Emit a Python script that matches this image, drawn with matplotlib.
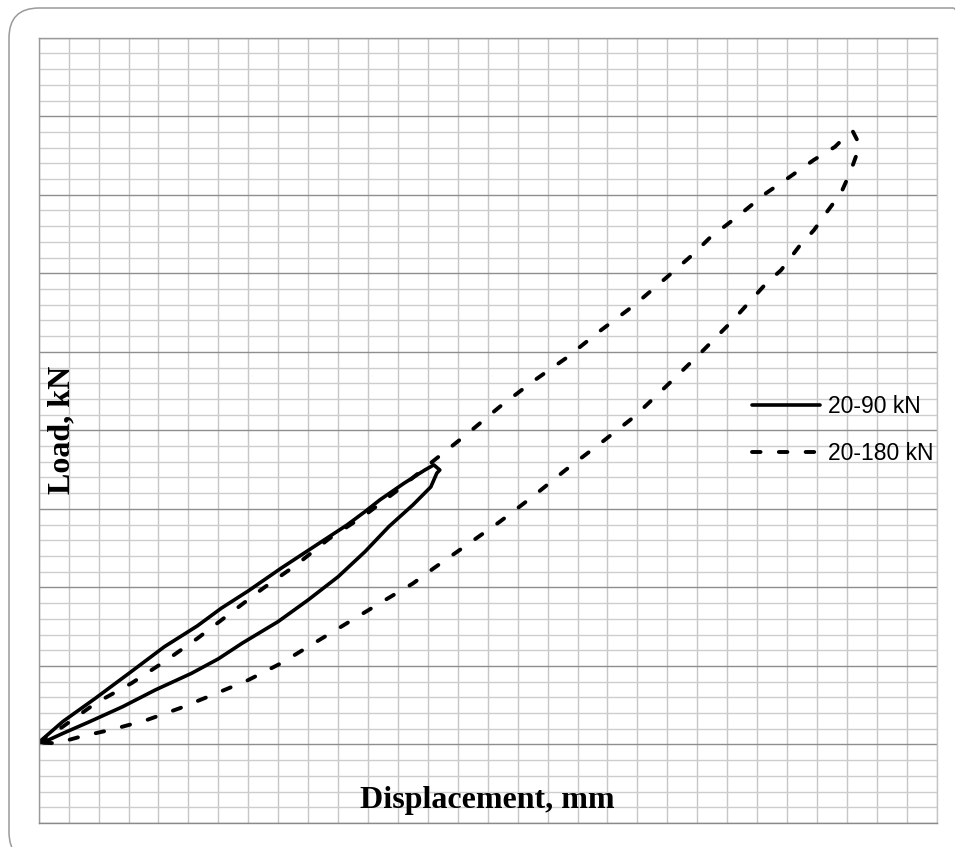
import matplotlib
matplotlib.use("Agg")
import matplotlib.pyplot as plt
from matplotlib.patches import FancyBboxPatch
from matplotlib.transforms import IdentityTransform
from matplotlib.ticker import MultipleLocator, NullFormatter

# ---- data (displacement in mm, load in kN) ----
disp_90 = [0.00, 0.08, 0.19, 0.31, 0.42, 0.53, 0.61, 0.70, 0.81, 0.92, 1.03, 1.09,
           1.14, 1.22, 1.29, 1.32, 1.34, 1.33, 1.31, 1.25, 1.17, 1.09, 1.00, 0.90,
           0.80, 0.68, 0.60, 0.51, 0.39, 0.28, 0.17, 0.08, 0.02, 0.00]
load_90 = [20.5, 25.8, 31.8, 38.6, 44.9, 50.2, 54.7, 59.1, 64.9, 70.4, 75.9, 79.3,
           82.3, 86.5, 89.9, 91.2, 89.9, 89.1, 85.6, 81.0, 75.5, 69.1, 62.7, 56.8,
           51.3, 45.8, 41.8, 38.1, 33.9, 29.6, 25.8, 22.8, 20.7, 20.5]

disp_180 = [0.00, 0.08, 0.19, 0.31, 0.42, 0.53, 0.64, 0.75, 0.86, 0.97, 1.09, 1.20,
            1.31, 1.43, 1.54, 1.65, 1.76, 1.88, 1.99, 2.10, 2.19, 2.24, 2.34, 2.43,
            2.51, 2.59, 2.66, 2.70, 2.72, 2.74, 2.73, 2.71, 2.68, 2.63, 2.59, 2.54,
            2.48, 2.43, 2.32, 2.21, 2.10, 1.99, 1.88, 1.76, 1.65, 1.54, 1.43, 1.32,
            1.25, 1.14, 1.03, 0.92, 0.81, 0.70, 0.58, 0.47, 0.36, 0.25, 0.14, 0.06,
            0.00]
load_180 = [20.5, 24.5, 30.5, 35.6, 41.1, 47.0, 53.4, 59.8, 65.7, 72.4, 78.4, 84.8,
            91.7, 99.0, 106.0, 112.4, 118.3, 125.6, 131.9, 139.1, 145.1, 148.9, 154.8, 160.4,
            164.6, 168.9, 172.2, 175.2, 176.1, 173.1, 169.7, 165.5, 160.4, 155.3, 151.0, 146.8,
            140.8, 137.4, 128.1, 119.6, 111.5, 103.5, 96.9, 89.9, 83.1, 76.7, 70.8, 64.9,
            61.0, 56.0, 50.9, 45.8, 40.7, 36.4, 32.6, 29.2, 26.2, 23.9, 22.0, 20.3,
            20.5]

labels = ["20-90 kN", "20-180 kN"]
x_label = "Displacement, mm"
y_label = "Load, kN"

W, H = 955, 847
fig = plt.figure(figsize=(W / 100, H / 100), dpi=100)
fig.patch.set_facecolor("white")

# outer rounded frame (extends past the right and bottom edges of the image)
frame = FancyBboxPatch((9, H - 862), 974, 854,
                       boxstyle="round,pad=0,rounding_size=30",
                       transform=IdentityTransform(), facecolor="none",
                       edgecolor="#9a9a9a", linewidth=1.1)
fig.patches.append(frame)

L, R, T, B = 38.7, 936.7, 37.7, 823.0
ax = fig.add_axes([L / W, (H - B) / H, (R - L) / W, (B - T) / H])
ax.set_xlim(0, 3.0)
ax.set_ylim(0, 200)

ax.xaxis.set_major_locator(MultipleLocator(0.1))
ax.yaxis.set_major_locator(MultipleLocator(20))
ax.yaxis.set_minor_locator(MultipleLocator(4))
ax.xaxis.set_major_formatter(NullFormatter())
ax.yaxis.set_major_formatter(NullFormatter())
ax.yaxis.set_minor_formatter(NullFormatter())
ax.tick_params(which="both", length=0)

ax.grid(True, axis="x", which="major", color="#c6c6c6", linewidth=1.0)
ax.grid(True, axis="y", which="minor", color="#cdcdcd", linewidth=1.0)
ax.grid(True, axis="y", which="major", color="#8e8e8e", linewidth=1.0)
ax.set_axisbelow(True)

ax.spines["left"].set_color("#9a9a9a")
ax.spines["top"].set_color("#9a9a9a")
ax.spines["bottom"].set_color("#8a8a8a")
ax.spines["right"].set_color("#c6c6c6")
for s in ax.spines.values():
    s.set_linewidth(1.0)

ax.plot(disp_90, load_90, color="black", linewidth=2.6, solid_capstyle="round",
        solid_joinstyle="round", label=labels[0])
ax.plot(disp_180, load_180, color="black", linewidth=2.8, linestyle=(0, (2.2, 4.7)),
        dash_capstyle="round", label=labels[1])

leg = ax.legend(loc="center left", bbox_to_anchor=(752 / W, 1 - 430.4 / H),
                bbox_transform=fig.transFigure, frameon=False,
                prop={"family": "Liberation Sans", "size": 16.5},
                handlelength=2.95, handletextpad=0.35, labelspacing=1.05,
                borderpad=0, borderaxespad=0)

fig.text(487 / W, 1 - 800 / H, x_label, ha="center", va="center",
         family="Liberation Serif", weight="bold", fontsize=23)
fig.text(62 / W, 1 - 430 / H, y_label, ha="center", va="center", rotation=90,
         family="Liberation Serif", weight="bold", fontsize=23)

fig.savefig("out.png", dpi=100)
